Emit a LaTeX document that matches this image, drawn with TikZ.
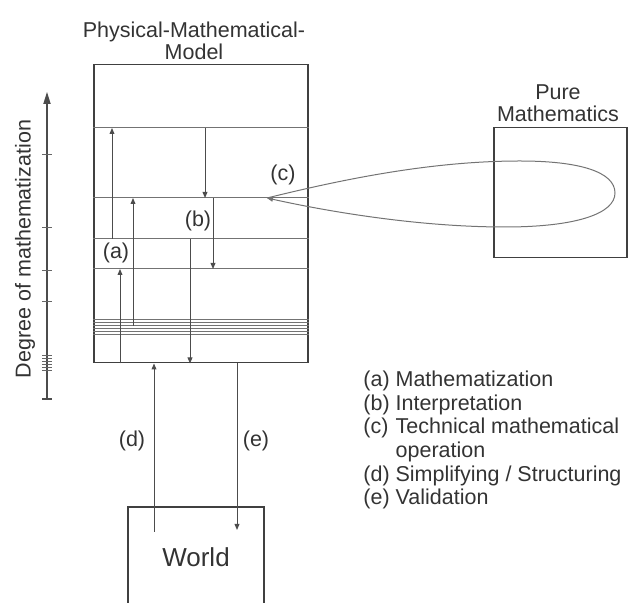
\documentclass[tikz,border=0pt]{standalone}
\usepackage{fontspec}
\setmainfont{Liberation Sans}
\usetikzlibrary{positioning, arrows.meta, calc}

\begin{document}
\begin{tikzpicture}[
    x=0.5pt, y=-0.5pt,
    every node/.style={font=\fontsize{10.75}{10.85}\selectfont, text=black!80, inner sep=0pt},
    box/.style={draw=black!75, line width=0.75pt},
    level/.style={draw=black!55, line width=0.5pt},
    arrow/.style={-{Triangle[length=3pt, width=2.4pt]}, draw=black!70, line width=0.5pt},
    axisarrow/.style={-{Triangle[length=6pt, width=3.6pt]}, draw=black!70, line width=0.6pt}
  ]
  \useasboundingbox (0,0) rectangle (628,603);

  % Model box (left)
  \node[box, anchor=north west, minimum width=107pt, minimum height=149pt] (model) at (93,64) {};
  \node[align=center] (mtitle) at (194,41) {Physical-Mathematical-\\Model};
  \foreach \y/\n in {128/l1, 198/l2, 239/l3, 269/l4}
    \draw[level] (model.west |- 0,\y) coordinate (\n) -- (model.east |- 0,\y);
  \foreach \y in {320,323,...,335}
    \draw[level] (model.west |- 0,\y) -- (model.east |- 0,\y);
  \coordinate (cl) at (93,326);

  % Mathematization / interpretation arrows
  \coordinate (xa) at (112,0);
  \coordinate (xb) at (133,0);
  \coordinate (xc) at (120,0);
  \coordinate (xd) at (205,0);
  \coordinate (xe) at (213,0);
  \coordinate (xf) at (190,0);
  \draw[arrow] (xa |- l3) -- (xa |- l1);
  \draw[arrow] (xb |- cl) -- (xb |- l2);
  \draw[arrow] (xc |- model.south) -- (xc |- l4);
  \draw[arrow] (xd |- l1) -- (xd |- l2);
  \draw[arrow] (xe |- l2) -- (xe |- l4);
  \draw[arrow] (xf |- l3) -- (xf |- model.south);
  \node (la) at (116,253) {(a)};
  \node (lb) at (198,221) {(b)};
  \node (lc) at (283,175) {(c)};

  % Pure mathematics (right)
  \node[box, anchor=north west, minimum width=66.5pt, minimum height=65pt] (pure) at (493,127) {};
  \node[align=center] (ptitle) at (558,103) {Pure\\Mathematics};
  \coordinate (ctip) at (267,198);
  \draw[arrow, draw=black!55] (ctip) .. controls (340,180) and (430,161) .. (520,161)
    .. controls (580,161) and (615,172) .. (615,193)
    .. controls (615,214) and (575,227) .. (505,227)
    .. controls (420,227) and (330,212) .. (ctip);

  % World (bottom)
  \draw[box] (128,603) |- (264,507) -- (264,603);
  \node[font=\fontsize{13}{14}\selectfont] (world) at (196,557) {World};
  \coordinate (wd) at (154,532);
  \coordinate (we) at (237,530);
  \draw[arrow] (wd) -- (wd |- model.south);
  \draw[arrow] (we |- model.south) -- (we);
  \node (ld) at (132,441) {(d)};
  \node (le) at (256,441) {(e)};

  % Degree axis
  \coordinate (axb) at (47,399);
  \coordinate (axt) at (47,92);
  \draw[axisarrow] (axb) -- (axt);
  \draw[draw=black!70, line width=0.6pt] ($(axb)+(-5,0)$) -- ($(axb)+(5,0)$);
  \foreach \y in {155,228,271,302,356,359,...,371}
    \draw[draw=black!60, line width=0.5pt] (42,\y) -- (52,\y);
  \node[rotate=90] (axlabel) at (25,249) {Degree of mathematization};

  % Legend
  \node[anchor=base west, font=\fontsize{10.75}{11.85}\selectfont] (legend) at (363,386.5) {%
    \begin{tabular}[t]{@{}l@{\ }l@{}}
      (a) & Mathematization\\
      (b) & Interpretation\\
      (c) & Technical mathematical\\
          & operation\\
      (d) & Simplifying / Structuring\\
      (e) & Validation
    \end{tabular}};
\end{tikzpicture}
\end{document}
